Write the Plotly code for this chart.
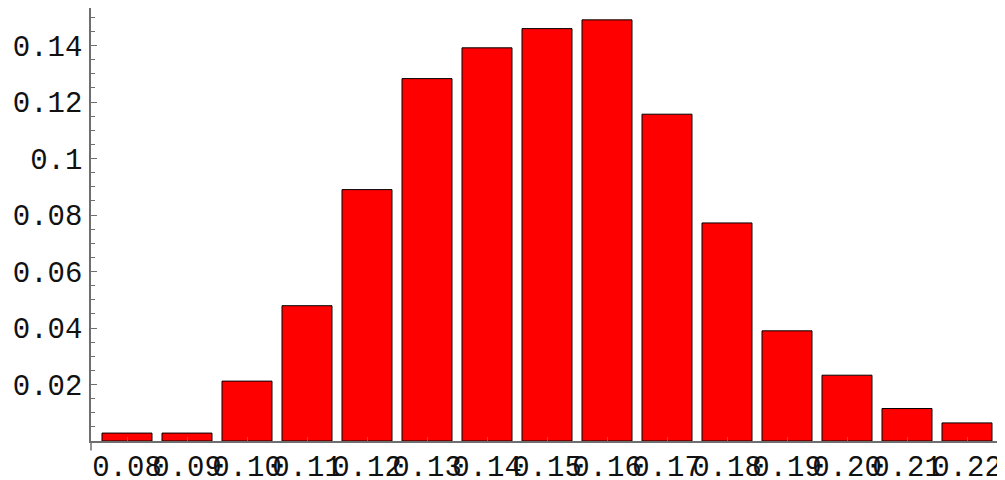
import plotly.graph_objects as go

categories = ["0.08", "0.09", "0.10", "0.11", "0.12", "0.13", "0.14", "0.15",
              "0.16", "0.17", "0.18", "0.19", "0.20", "0.21", "0.22"]
values = [0.0028, 0.0028, 0.0212, 0.0479, 0.0890, 0.1283, 0.1392, 0.1460,
          0.1491, 0.1157, 0.0772, 0.0390, 0.0233, 0.0115, 0.0064]
y_tickvals = [0.02, 0.04, 0.06, 0.08, 0.10, 0.12, 0.14]
y_ticktext = ["0.02", "0.04", "0.06", "0.08", "0.1", "0.12", "0.14"]

font_mono = "Liberation Mono, Courier New, monospace"
axis_col = "#6e6e6e"

fig = go.Figure(go.Bar(
    x=categories, y=values, width=0.833,
    marker=dict(color="#ff0000", line=dict(color="#000000", width=1)),
))

fig.update_layout(
    width=1005, height=480,
    margin=dict(l=83, r=10, t=0, b=47, autoexpand=False),
    paper_bgcolor="white", plot_bgcolor="white",
    showlegend=False,
    bargap=0.1667,
    font=dict(family=font_mono, size=29, color="black"),
)
fig.update_xaxes(
    type="category", range=[-0.6, 14.6], tickangle=0, automargin=False,
    showline=True, linecolor=axis_col, linewidth=1.5,
    showgrid=False, zeroline=False,
    ticks="inside", ticklen=4, tickcolor=axis_col, tickwidth=1,
    ticklabelstandoff=-2,
    tickfont=dict(family=font_mono, size=29, color="#111111"),
)
fig.update_yaxes(
    range=[0, 0.1533], automargin=False,
    showline=True, linecolor=axis_col, linewidth=1.5,
    showgrid=False, zeroline=False,
    tickmode="array", tickvals=y_tickvals, ticktext=y_ticktext,
    ticks="inside", ticklen=6, tickcolor=axis_col, tickwidth=1,
    ticklabelstandoff=1,
    minor=dict(tickmode="linear", tick0=0, dtick=0.005, ticks="inside",
               ticklen=4, tickcolor=axis_col, tickwidth=1),
    tickfont=dict(family=font_mono, size=29, color="#111111"),
)
# extension of the vertical axis below the horizontal axis
fig.add_shape(type="line", xref="paper", yref="paper", x0=0, x1=0, y0=-0.022, y1=0,
              line=dict(color=axis_col, width=1.5))

fig.write_html("out.html")
